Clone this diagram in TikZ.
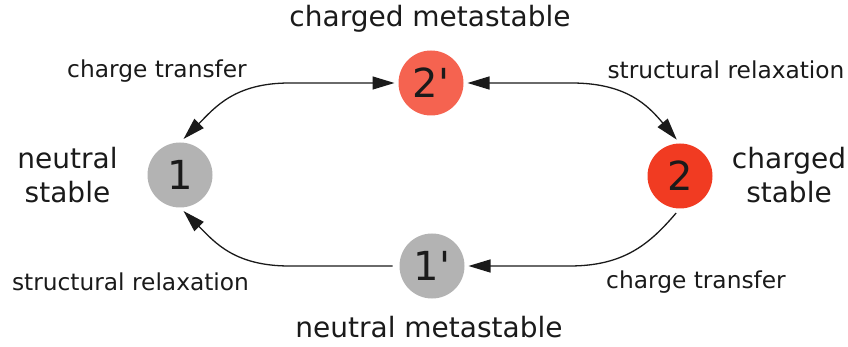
\documentclass[tikz,border=0pt]{standalone}
\usepackage{fontspec}
\setmainfont{DejaVu Sans}
\newfontfamily\statefont{DejaVu Sans}
\usetikzlibrary{arrows.meta,calc}
\definecolor{ink}{HTML}{1A1A1A}
\definecolor{grayst}{HTML}{B3B3B3}
\definecolor{metared}{HTML}{F56350}
\definecolor{stablered}{HTML}{F13B22}
\begin{document}
\begin{tikzpicture}[x=1pt,y=-1pt,
  state/.style={circle,minimum size=65pt,inner sep=0pt,outer sep=0pt,text=ink,font=\statefont\fontsize{40}{48}\selectfont},
  lab/.style={text=ink,inner sep=0pt,font=\fontsize{23.3}{28}\selectfont,anchor=base},
  biglab/.style={text=ink,inner sep=0pt,font=\fontsize{28}{34}\selectfont},
  arr/.style={draw=ink,line width=1.3pt,-{Triangle[length=22pt,width=13pt]}},
  darr/.style={draw=ink,line width=1.3pt,{Triangle[length=22pt,width=13pt]}-{Triangle[length=22pt,width=13pt]}}
]
\useasboundingbox (0,0) rectangle (848,347);
\node[state,fill=grayst] (n1) at (180,175) {1};
\node[state,fill=metared] (n2p) at (431,83) {2'};
\node[state,fill=stablered] (n2) at (680,176) {2};
\node[state,fill=grayst] (n1p) at (432,266) {1'};

\node[biglab,anchor=base] (tcm) at (430,27) {charged metastable};
\node[biglab,anchor=base] (tnm) at (429,337) {neutral metastable};
\node[biglab,align=center] (tns) at (67.5,175) {neutral\\[-0.5pt]stable};
\node[biglab,align=center] (tcs) at (789,175) {charged\\[-0.5pt]stable};

\node[lab] (lct1) at (157,78) {charge transfer};
\node[lab] (lsr1) at (726,79) {structural relaxation};
\node[lab] (lsr2) at (130.5,290) {structural relaxation};
\node[lab] (lct2) at (696,288) {charge transfer};

\draw[darr,shorten <=5pt,shorten >=4pt] (n1.north) .. controls +(35,-35) and +(-55,0) .. ($(n2p.west)+(-109,0)$) -- (n2p.west);
\draw[darr,shorten <=4pt,shorten >=5pt] (n2p.east) -- ($(n2p.east)+(108,0)$) .. controls +(55,0) and +(-32,-38) .. (n2.north);
\draw[arr,shorten <=6pt,shorten >=4pt] (n2.south) .. controls +(-30,35) and +(55,0) .. ($(n1p.east)+(105,0)$) -- (n1p.east);
\draw[arr,shorten <=7pt,shorten >=5pt] (n1p.west) -- ($(n1p.west)+(-110,0)$) .. controls +(-55,0) and +(35,35) .. (n1.south);
\end{tikzpicture}
\end{document}
